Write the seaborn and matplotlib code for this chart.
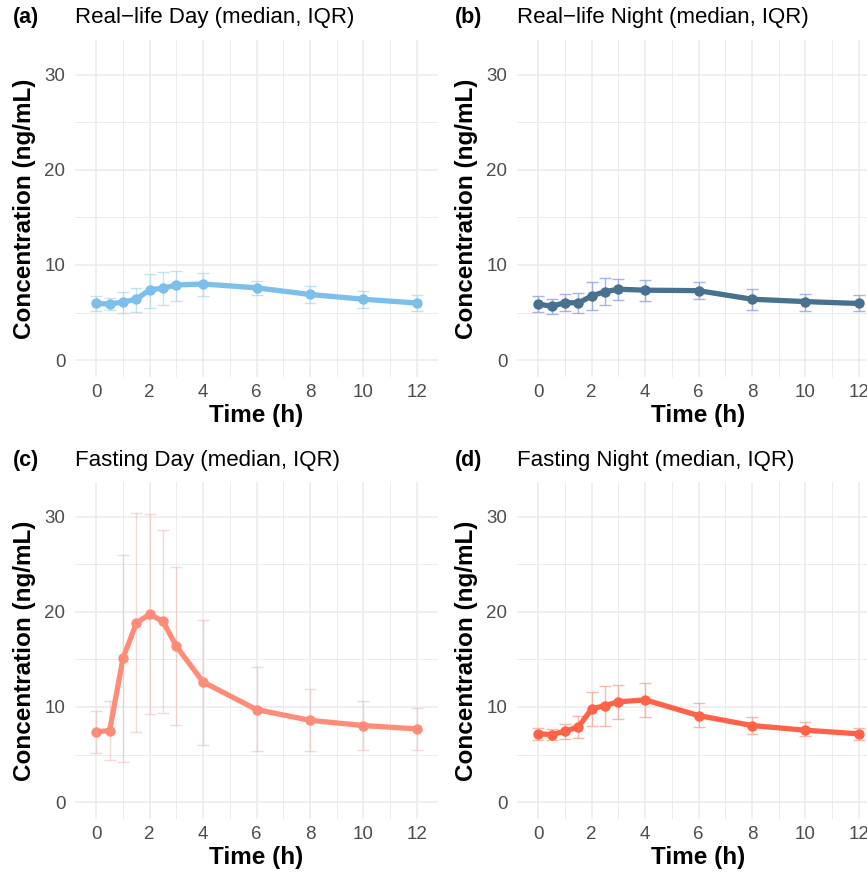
import numpy as np
import pandas as pd
import matplotlib
matplotlib.use("Agg")
import matplotlib.pyplot as plt
from matplotlib.ticker import MultipleLocator
import seaborn as sns

time = [0, 0.5, 1, 1.5, 2, 2.5, 3, 4, 6, 8, 10, 12]

a_med = [5.95, 5.9, 6.1, 6.4, 7.4, 7.55, 7.9, 8.0, 7.6, 6.9, 6.4, 6.0]
a_q1 = [5.15, 5.25, 4.9, 5.1, 5.5, 5.8, 6.2, 6.7, 6.8, 6.0, 5.5, 5.2]
a_q3 = [6.75, 6.5, 7.2, 7.6, 9.1, 9.3, 9.4, 9.2, 8.3, 7.8, 7.3, 6.8]

b_med = [5.9, 5.65, 6.05, 6.0, 6.75, 7.2, 7.45, 7.35, 7.3, 6.4, 6.15, 5.95]
b_q1 = [5.05, 4.8, 5.2, 4.95, 5.25, 5.8, 6.35, 6.25, 6.4, 5.3, 5.2, 5.15]
b_q3 = [6.7, 6.4, 6.9, 7.1, 8.25, 8.65, 8.5, 8.45, 8.2, 7.5, 7.0, 6.8]

c_med = [7.39, 7.52, 15.15, 18.82, 19.77, 18.99, 16.37, 12.63, 9.73, 8.6, 8.05, 7.7]
c_q1 = [5.18, 4.41, 4.2, 7.35, 9.23, 9.38, 8.08, 6.02, 5.35, 5.39, 5.46, 5.5]
c_q3 = [9.62, 10.64, 26.0, 30.37, 30.33, 28.58, 24.73, 19.2, 14.17, 11.9, 10.64, 9.86]

d_med = [7.18, 7.1, 7.45, 7.91, 9.8, 10.15, 10.54, 10.75, 9.1, 8.05, 7.56, 7.18]
d_q1 = [6.58, 6.51, 6.65, 6.76, 8.05, 8.05, 8.75, 8.99, 7.87, 7.18, 6.93, 6.58]
d_q3 = [7.84, 7.7, 8.18, 9.07, 11.54, 12.17, 12.28, 12.49, 10.43, 8.92, 8.39, 7.81]

tags = ["(a)", "(b)", "(c)", "(d)"]
titles = ["Real\u2212life Day (median, IQR)", "Real\u2212life Night (median, IQR)",
          "Fasting Day (median, IQR)", "Fasting Night (median, IQR)"]
line_colors = ["#7DBFEB", "#48708F", "#FF8C78", "#FF6347"]
err_colors = ["#9FD0E8", "#8FA3E6", "#E8AFA8", "#F0A090"]
err_alpha = [0.6, 0.8, 0.45, 0.7]

series = [(a_med, a_q1, a_q3), (b_med, b_q1, b_q3), (c_med, c_q1, c_q3), (d_med, d_q1, d_q3)]

sns.set_theme(style="white")
plt.rcParams['font.family'] = ['Liberation Sans', 'DejaVu Sans']

W, H = 867, 876
fig = plt.figure(figsize=(W / 100, H / 100), dpi=100)

pw, ph = 363, 337
lefts = [75, 517, 75, 517]
tops = [40, 40, 482, 482]
title_y = [17, 17, 461, 461]

for i in range(4):
    med, q1, q3 = series[i]
    df = pd.DataFrame({"time": time, "median": med, "q1": q1, "q3": q3})
    ax = fig.add_axes([lefts[i] / W, (H - tops[i] - ph) / H, pw / W, ph / H])
    ax.set_xlim(-0.8, 12.8)
    ax.set_ylim(-1.78, 33.66)
    ax.xaxis.set_major_locator(MultipleLocator(2))
    ax.xaxis.set_minor_locator(MultipleLocator(1))
    ax.yaxis.set_major_locator(MultipleLocator(10))
    ax.yaxis.set_minor_locator(MultipleLocator(5))
    ax.grid(which="major", color="#EBEBEB", linewidth=1.1)
    ax.grid(which="minor", color="#EBEBEB", linewidth=0.7)
    ax.set_axisbelow(True)
    for s in ax.spines.values():
        s.set_visible(False)

    ax.errorbar(df["time"], df["median"],
                yerr=[df["median"] - df["q1"], df["q3"] - df["median"]],
                fmt="none", ecolor=err_colors[i], alpha=err_alpha[i],
                elinewidth=1.0, capsize=4, capthick=1.0, zorder=2)
    sns.lineplot(data=df, x="time", y="median", ax=ax, color=line_colors[i],
                 linewidth=3.8, marker="o", markersize=7.5,
                 markeredgewidth=0, zorder=3)

    ax.tick_params(axis="both", which="both", length=0, labelsize=13.5,
                   labelcolor="#4D4D4D")
    ax.tick_params(axis="y", pad=7)
    ax.tick_params(axis="x", pad=5)
    ax.set_xlabel("Time (h)", fontsize=17.5, fontweight="bold", labelpad=2,
                  color="black")
    ax.set_ylabel("Concentration (ng/mL)", fontsize=17.5, fontweight="bold",
                  labelpad=6, color="black")

    fig.text(lefts[i] / W, 1 - title_y[i] / H, titles[i], fontsize=16,
             va="center", ha="left", color="black")
    fig.text((lefts[i] - 62) / W, 1 - title_y[i] / H, tags[i], fontsize=15.5,
             fontweight="bold", va="center", ha="left", color="black")

fig.savefig("out.png", dpi=100, facecolor="white")
